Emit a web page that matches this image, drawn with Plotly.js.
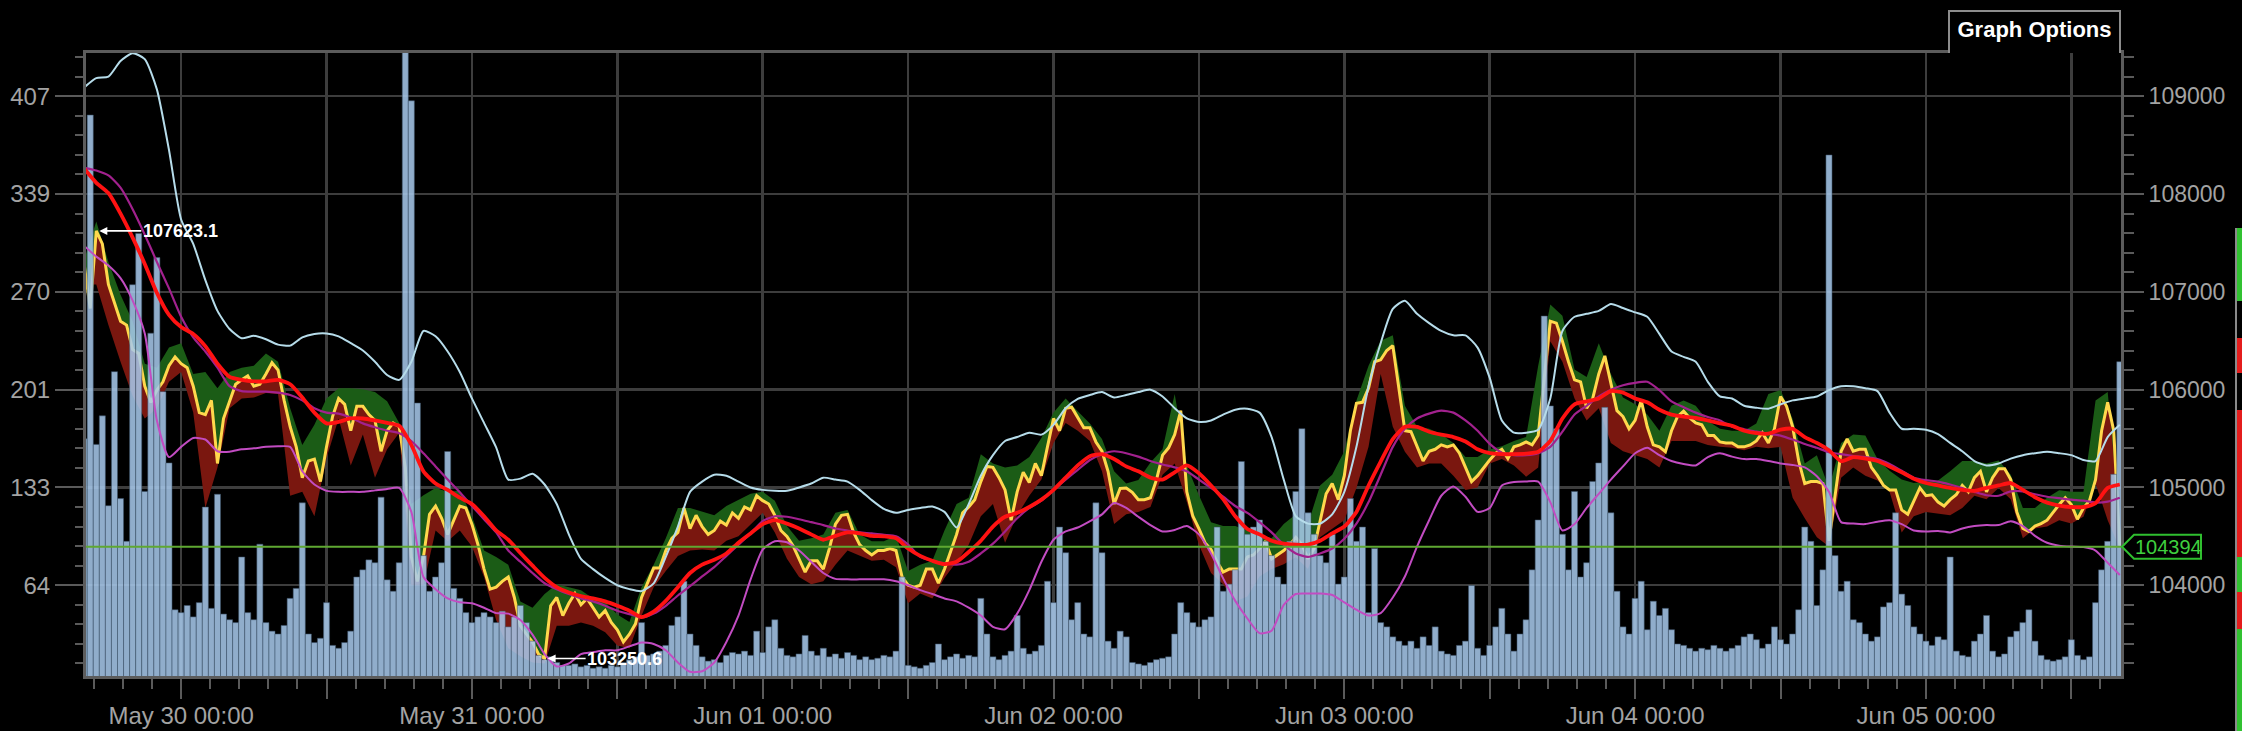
<!DOCTYPE html>
<html><head><meta charset="utf-8">
<script src="https://cdn.plot.ly/plotly-3.0.1.min.js"></script>
<style>
html,body{margin:0;padding:0;background:#000;width:2242px;height:731px;overflow:hidden;}
#chart{position:absolute;left:0;top:0;width:2235px;height:731px;}
#opts{position:absolute;left:1948px;top:10px;width:173px;height:43px;box-sizing:border-box;border:2px solid #8c8c8c;border-bottom:none;color:#fff;font:bold 22px 'Liberation Sans',Arial,sans-serif;text-align:center;line-height:36px;background:#000;}
#stripline{position:absolute;left:2235px;top:228px;width:2px;height:503px;background:#8a8a8a;}
</style></head>
<body>
<div id="chart"></div>
<div id="opts">Graph Options</div>
<div id="stripline"></div>
<script>
// ---- price (yellow), 30-minute steps from May 29 16:00 ----
const yellow = [
107280,106830,107623.1,107490,107075,106890,106700,106660,106410,106370,106035,105870,
105995,106080,106245,106335,106265,106225,106035,105765,105745,105890,105245,105705,
105890,106055,106100,106140,106035,106055,106160,106275,106200,105890,105620,105415,
105100,105270,105290,105060,105415,105725,105910,105850,105580,105830,105830,105745,
105685,105370,105580,105660,105620,105205,104290,104040,104290,104725,104810,104685,
104520,104665,104810,104790,104625,104415,104165,103960,103980,104040,104085,103875,
103585,103500,103420,103295,103250.6,103790,103875,103690,103815,103915,103800,103865,
103770,103675,103740,103620,103545,103420,103500,103605,103875,104020,104175,104175,
104355,104480,104540,104790,104580,104715,104600,104520,104560,104655,104615,104740,
104685,104800,104770,104915,104865,104830,104715,104560,104500,104405,104270,104135,
104250,104250,104165,104375,104625,104715,104725,104540,104415,104355,104310,104355,
104355,104375,104355,104085,104000,103980,104000,104165,104165,104020,104165,104340,
104520,104740,104800,104875,105060,105215,105205,105100,104975,104665,104955,105155,
105050,105245,105120,105415,105705,105580,105810,105820,105715,105610,105610,105465,
105370,105165,104830,104990,104995,104950,104875,104875,104895,105080,105330,105405,
105540,105785,104955,104705,104580,104435,104365,104240,104135,104165,104165,104165,
104290,104310,104375,104450,104270,104310,104355,104415,104490,104415,104270,104375,
104665,104935,105040,104875,105120,105580,105860,105870,106015,106285,106305,106400,
106450,105995,105580,105570,105415,105270,105370,105390,105435,105415,105435,105350,
105205,105060,105120,105205,105280,105350,105390,105295,105415,105435,105465,105435,
105530,106120,106700,106680,106495,106285,106100,106080,105810,105910,106160,106345,
106055,105785,105725,105600,105685,105890,105620,105435,105415,105365,105580,105725,
105780,105710,105660,105640,105530,105530,105465,105455,105455,105415,105415,105435,
105475,105560,105455,105600,105930,105830,105620,105270,105040,105060,105060,105040,
104455,104915,105370,105495,105370,105390,105390,105205,105120,105020,104975,104975,
104770,104725,104865,104995,104915,104925,104850,104810,104875,104925,105020,104955,
105100,105165,104955,105100,105190,105190,105080,104750,104580,104550,104605,104630,
104665,104750,104825,104895,104825,104675,104790,104865,105080,105580,105870,105580,
104394];

// ---- band edges (hourly) ----
const bandUpper = [
107330,107720,107305,106970,106700,106265,106225,106430,106475,106160,106180,106015,
106180,106225,106245,106370,106285,105810,105435,105640,105910,106015,106015,106005,
105975,105880,105660,104830,104920,104995,104955,104965,104705,104355,104290,104210,
103835,103770,103910,104010,103980,103950,103865,103825,103700,103625,103980,104210,
104480,104790,104790,104755,104715,104810,104875,104935,104955,104865,104605,104455,
104480,104520,104740,104770,104520,104450,104450,104505,104145,104210,104250,104560,
104830,104895,105340,105245,105205,105225,105310,105505,105765,105910,105780,105655,
105495,105165,105040,105075,105255,105390,105955,105225,104920,104645,104605,104605,
104560,104520,104480,104625,104725,104625,105020,105130,105370,105890,106245,106500,
106555,105835,105620,105600,105545,105455,105310,105310,105390,105420,105475,105515,
106245,106870,106755,106205,106130,106475,106160,105920,105850,105745,105580,105835,
105890,105835,105680,105600,105580,105580,105655,105955,105995,105700,105245,105330,
104995,105455,105540,105530,105290,105170,105080,105045,105060,105070,105165,105270,
105270,105245,105275,105130,104790,104790,104895,104970,104955,104955,105890,105975,
104665];
const bandLower = [
107075,107075,106660,106285,105935,105705,105810,106080,106180,105765,104790,105205,
105810,105910,105920,105965,105955,104915,104955,104705,105300,105705,105225,105540,
105100,105390,105560,104000,104000,104560,104450,104560,104395,104085,103645,103355,
103275,103210,103200,103585,103585,103620,103585,103520,103385,103355,103690,103980,
104145,104300,104355,104365,104355,104455,104500,104615,104740,104540,104270,104085,
104010,104040,104210,104355,104300,104250,104260,104185,103815,103915,103865,104075,
104240,104415,104705,104830,104435,104715,104915,105080,105455,105660,105580,105475,
105165,104625,104725,104750,104800,105130,105245,104850,104415,104125,104010,103835,
103885,104090,104165,104215,104285,104165,104490,104580,104665,104995,105415,106160,
105620,105365,105205,105245,105245,105120,104975,105000,105245,105290,105225,105110,
105205,106495,106285,105910,105685,105810,105455,105370,105330,105290,105205,105475,
105475,105475,105435,105415,105405,105380,105415,105400,105415,104895,104685,104490,
104395,105100,105205,105120,105070,104955,104540,104705,104750,104730,104715,104790,
104915,104880,104995,104880,104480,104580,104600,104665,104630,104700,105040,104665,
104375];

// ---- moving lines (hourly) ----
const redMA = [
108260,108115,108010,107800,107555,107285,106990,106765,106640,106570,106445,106265,
106130,106100,106085,106085,106100,106055,105920,105765,105655,105670,105705,105705,
105685,105660,105630,105435,105165,105040,104975,104895,104830,104705,104560,104465,
104330,104200,104075,103980,103925,103890,103865,103835,103790,103740,103675,103730,
103840,103980,104125,104210,104260,104325,104435,104530,104625,104665,104630,104580,
104520,104465,104505,104540,104530,104505,104500,104480,104375,104300,104250,104215,
104240,104340,104455,104600,104700,104740,104800,104875,104975,105100,105225,105320,
105340,105290,105215,105165,105100,105080,105155,105225,105145,105020,104880,104705,
104575,104520,104455,104425,104415,104415,104455,104530,104600,104750,105020,105265,
105495,105620,105620,105570,105540,105515,105470,105390,105350,105340,105340,105345,
105365,105475,105705,105850,105880,105910,105985,105970,105910,105870,105795,105745,
105725,105710,105685,105655,105630,105580,105555,105550,105590,105600,105515,105455,
105380,105270,105310,105295,105270,105215,105155,105090,105045,105020,104995,104975,
104965,104995,105020,105045,104975,104900,104845,104815,104800,104800,104840,104995,
105030];
const purpleMA = [
108270,108240,108190,108065,107845,107585,107305,107035,106745,106535,106390,106225,
106035,105985,105980,105980,105970,105945,105890,105810,105765,105755,105715,105655,
105615,105580,105555,105475,105350,105215,105080,104950,104810,104675,104540,104355,
104240,104125,104020,103960,103910,103865,103835,103790,103740,103705,103670,103710,
103790,103895,103990,104090,104185,104300,104415,104530,104655,104705,104700,104675,
104645,104615,104580,104560,104540,104530,104515,104500,104415,104290,104250,104225,
104210,104240,104325,104425,104550,104685,104790,104865,104975,105080,105180,105280,
105340,105370,105350,105315,105270,105235,105205,105165,105080,104995,104905,104810,
104740,104645,104540,104415,104325,104290,104325,104375,104475,104630,104850,105130,
105415,105600,105705,105755,105785,105765,105685,105580,105445,105355,105330,105330,
105350,105415,105570,105745,105835,105930,106000,106045,106070,106080,105995,105880,
105820,105765,105720,105685,105620,105595,105570,105550,105530,105490,105445,105405,
105360,105340,105320,105310,105290,105240,105170,105100,105075,105060,105030,104995,
104955,104920,104915,104960,104960,104930,104905,104890,104875,104865,104845,104855,
104895];
const magentaLine = [
107470,107360,107270,107140,106910,106575,105685,105310,105415,105505,105490,105370,
105365,105390,105400,105415,105420,105415,105165,105030,104965,104955,104955,104955,
104970,104985,104995,104750,104085,103960,103865,103825,103815,103770,103715,103710,
103645,103495,103295,103170,103200,103295,103315,103335,103335,103375,103415,103400,
103335,103210,103115,103120,103210,103420,103690,104060,104365,104450,104440,104355,
104240,104125,104065,104060,104060,104060,104060,104040,104000,103950,103910,103865,
103835,103770,103690,103575,103550,103710,103950,104240,104465,104550,104590,104655,
104725,104840,104790,104700,104615,104550,104565,104605,104520,104325,104070,103840,
103660,103510,103535,103800,103910,103915,103915,103900,103825,103750,103690,103715,
103875,104090,104395,104665,104915,105010,104905,104750,104790,105020,105055,105060,
105060,104850,104560,104625,104790,104935,105080,105215,105350,105405,105330,105270,
105240,105225,105310,105350,105315,105290,105290,105270,105245,105230,105205,105115,
104955,104645,104630,104625,104650,104665,104625,104560,104550,104555,104540,104580,
104605,104615,104615,104655,104605,104505,104435,104405,104395,104390,104355,104230,
104105];
const lightBlueLine = [
109090,109185,109200,109360,109440,109380,109070,108450,107740,107490,107120,106805,
106620,106525,106550,106515,106460,106450,106535,106570,106575,106545,106475,106400,
106285,106150,106100,106285,106600,106545,106390,106180,105910,105660,105410,105080,
105090,105140,105030,104830,104520,104270,104165,104075,104000,103960,103940,104020,
104290,104600,104955,105060,105130,105120,105060,105000,104975,104965,104965,105000,
105040,105100,105080,105060,104975,104870,104780,104740,104770,104790,104805,104750,
104590,104830,105120,105330,105475,105515,105560,105540,105640,105810,105905,105945,
105975,105920,105945,105975,106000,105930,105810,105705,105670,105685,105745,105795,
105805,105765,105515,105080,104705,104630,104630,104725,104955,105415,106035,106475,
106825,106910,106775,106680,106600,106555,106555,106430,106120,105685,105560,105560,
105590,105910,106600,106745,106775,106805,106875,106835,106790,106745,106570,106390,
106335,106285,106080,105930,105910,105835,105815,105805,105850,105890,105910,105930,
105995,106035,106035,106015,105985,105765,105600,105600,105590,105545,105455,105370,
105270,105225,105245,105295,105330,105350,105365,105350,105330,105280,105270,105515,
105640];

// ---- volume, 30-minute steps ----
const volume = [
167,394,163,183,120,214,125,95,275,311,130,241,
294,200,150,47,45,50,42,52,119,48,128,44,
40,38,84,45,40,93,38,32,30,36,55,62,
122,30,24,27,52,22,20,24,32,70,75,82,
80,126,68,60,80,439,404,192,85,60,70,80,
158,62,55,45,38,42,45,42,38,46,35,42,
50,38,25,15,12,14,10,8,8,9,7,8,
6,7,6,8,7,10,12,14,38,15,16,18,
22,36,42,67,30,22,14,11,12,10,15,17,
16,18,15,32,17,35,40,20,15,14,16,29,
18,15,20,14,16,13,17,15,12,14,12,13,
15,14,18,70,8,7,6,8,10,23,12,14,
16,13,15,14,55,30,14,12,15,18,43,20,
16,18,22,67,52,105,87,40,52,30,28,122,
87,25,20,32,28,10,9,8,10,12,13,14,
30,52,45,38,35,40,42,105,60,65,75,151,
100,105,110,95,85,70,65,95,130,174,115,100,
85,80,100,65,70,125,95,105,45,90,38,35,
28,25,22,25,20,28,22,35,18,16,15,22,
25,64,20,15,22,35,48,30,18,30,40,75,
110,253,190,174,100,75,130,70,80,137,150,189,
115,60,35,30,55,67,33,53,43,48,33,23,
22,20,18,20,19,22,20,18,20,22,28,30,
26,20,23,35,26,23,30,47,105,95,50,75,
366,85,60,67,40,38,30,25,28,49,52,115,
58,50,35,30,25,22,28,26,84,18,15,14,
25,30,43,18,14,16,28,32,38,47,25,15,
12,11,12,14,26,15,12,14,52,75,95,142,
221];

// ---- axes / labels ----
const priceTicks = [104000,105000,106000,107000,108000,109000];
const xTickVals = ['2025-05-30 00:00','2025-05-30 12:00','2025-05-31 00:00','2025-05-31 12:00',
  '2025-06-01 00:00','2025-06-01 12:00','2025-06-02 00:00','2025-06-02 12:00',
  '2025-06-03 00:00','2025-06-03 12:00','2025-06-04 00:00','2025-06-04 12:00',
  '2025-06-05 00:00','2025-06-05 12:00'];
const xTickText = ['May 30 00:00','','May 31 00:00','','Jun 01 00:00','','Jun 02 00:00','',
  'Jun 03 00:00','','Jun 04 00:00','','Jun 05 00:00',''];
const lastPrice = 104394;
const stripSegments = [[228,301,'#31c131'],[301,338,'#000'],[338,373,'#e41c1c'],[373,410,'#000'],
  [410,557,'#e41c1c'],[557,592,'#31c131'],[592,629,'#e41c1c'],[629,731,'#31c131']];

stripSegments.forEach(s=>{
  const d=document.createElement('div');
  d.style.cssText='position:absolute;left:2237px;width:5px;top:'+s[0]+'px;height:'+(s[1]-s[0])+'px;background:'+s[2];
  document.body.appendChild(d);
});

const T0 = Date.UTC(2025,4,29,16,0,0);
const HOUR = 3600e3;
function ts(h){ return new Date(T0 + h*HOUR).toISOString().slice(0,16).replace('T',' '); }
const hourTimes = bandUpper.map((_,i)=>ts(i));
const halfTimes = yellow.map((_,i)=>ts(i*0.5));
const volTimes = volume.map((_,i)=>ts(i*0.5));

const PMIN = 103072, PMAX = 109442;
const VOL_AT_104K = 64.2, VOL_PER_USD = 0.0686;
const toVol = p => (p-104000)*VOL_PER_USD + VOL_AT_104K;
const volTickVals = priceTicks.map(toVol);
const volTickText = volTickVals.map(v=>String(Math.round(v)));

let iMax=0,iMin=0;
yellow.forEach((v,i)=>{ if(v>yellow[iMax]) iMax=i; if(v<yellow[iMin]) iMin=i; });

const GRID='#3d3d3d', TICK='#5a5a5a', LBL='#a3a3a3';
const FONT="'Liberation Sans', Arial, sans-serif";

const traces = [
  {x:hourTimes, y:bandLower, type:'scatter', mode:'lines', line:{width:0}, yaxis:'y', hoverinfo:'skip'},
  {x:halfTimes, y:yellow, type:'scatter', mode:'lines', line:{width:0}, fill:'tonexty', fillcolor:'#7a170f', yaxis:'y', hoverinfo:'skip'},
  {x:hourTimes, y:bandUpper, type:'scatter', mode:'lines', line:{width:0}, fill:'tonexty', fillcolor:'#1b5c16', yaxis:'y', hoverinfo:'skip'},
  {x:halfTimes, y:yellow, type:'scatter', mode:'lines', line:{color:'#ffd84d', width:3}, yaxis:'y'},
  {x:volTimes, y:volume, type:'bar', yaxis:'y2', marker:{color:'rgba(168,202,236,0.86)', line:{color:'rgba(60,82,104,0.9)', width:0.6}}},
  {x:hourTimes, y:lightBlueLine, type:'scatter', mode:'lines', line:{color:'#b6dcea', width:2, shape:'spline', smoothing:0.6}, yaxis:'y3'},
  {x:hourTimes, y:magentaLine, type:'scatter', mode:'lines', line:{color:'#c24cc2', width:2, shape:'spline', smoothing:0.6}, yaxis:'y3'},
  {x:hourTimes, y:purpleMA, type:'scatter', mode:'lines', line:{color:'#a2218e', width:2.2, shape:'spline', smoothing:0.6}, yaxis:'y3'},
  {x:hourTimes, y:redMA, type:'scatter', mode:'lines', line:{color:'#ff1212', width:3.8, shape:'spline', smoothing:0.6}, yaxis:'y3'}
];

const layout = {
  width:2235, height:731,
  paper_bgcolor:'#000', plot_bgcolor:'#000',
  margin:{l:86, r:114, t:53, b:55, pad:0},
  showlegend:false, hovermode:false, bargap:0,
  font:{family:FONT, color:LBL, size:24},
  xaxis:{type:'date', range:[ts(0.16), ts(168.1)], tickmode:'array', tickvals:xTickVals, ticktext:xTickText,
    ticks:'outside', ticklen:20, tickwidth:2, tickcolor:TICK, showgrid:true, gridcolor:GRID, gridwidth:2.5,
    showline:true, linecolor:'#5c5c5c', linewidth:3, mirror:true, zeroline:false, ticklabelstandoff:-4,
    tickfont:{family:FONT, size:24, color:LBL},
    minor:{dtick:2.4*HOUR, tick0:'2025-05-30 00:00', ticks:'outside', ticklen:10, tickwidth:2, tickcolor:TICK, showgrid:false}},
  yaxis:{side:'right', range:[PMIN,PMAX], tickmode:'linear', tick0:0, dtick:1000, tickformat:'d',
    ticks:'outside', ticklen:20, tickwidth:2, tickcolor:TICK, showgrid:true, gridcolor:GRID, gridwidth:2.5,
    showline:true, linecolor:'#5c5c5c', linewidth:3, mirror:true, zeroline:false,
    tickfont:{family:FONT, size:23, color:LBL},
    minor:{tickmode:'linear', tick0:0, dtick:200, ticks:'outside', ticklen:10, tickwidth:2, tickcolor:TICK, showgrid:false}},
  yaxis2:{overlaying:'y', side:'left', range:[toVol(PMIN), toVol(PMAX)], tickmode:'array', tickvals:volTickVals, ticktext:volTickText,
    ticks:'outside', ticklen:30, tickwidth:2, tickcolor:TICK, showgrid:false, zeroline:false, showline:false,
    tickfont:{family:FONT, size:24, color:LBL},
    minor:{tickmode:'linear', tick0:VOL_AT_104K, dtick:200*VOL_PER_USD, ticks:'outside', ticklen:10, tickwidth:2, tickcolor:TICK, showgrid:false}},
  yaxis3:{overlaying:'y', range:[PMIN,PMAX], visible:false},
  shapes:[
    {type:'line', xref:'paper', x0:0, x1:1, yref:'y', y0:lastPrice, y1:lastPrice, line:{color:'#5fa832', width:2}, layer:'above'},
    {type:'path', xref:'paper', xsizemode:'pixel', xanchor:1, yref:'y', ysizemode:'pixel', yanchor:lastPrice,
     path:'M1,0 L13,12 L80,12 L80,-12 L13,-12 Z', line:{color:'#2fbf2f', width:2}, fillcolor:'#000', layer:'above'}
  ],
  annotations:[
    {xref:'x', yref:'y', x:halfTimes[iMax], y:yellow[iMax], text:'<b>'+yellow[iMax].toFixed(1)+'</b>',
     showarrow:true, ax:84, ay:0, arrowhead:2, arrowsize:1, arrowwidth:1.6, arrowcolor:'#ffffff', standoff:3,
     font:{family:FONT, size:18, color:'#ffffff'}},
    {xref:'x', yref:'y', x:halfTimes[iMin], y:yellow[iMin], text:'<b>'+yellow[iMin].toFixed(1)+'</b>',
     showarrow:true, ax:80, ay:0, arrowhead:2, arrowsize:1, arrowwidth:1.6, arrowcolor:'#ffffff', standoff:3,
     font:{family:FONT, size:18, color:'#ffffff'}},
    {xref:'paper', yref:'y', x:1, y:lastPrice, xanchor:'left', xshift:12, yanchor:'middle', showarrow:false,
     text:String(lastPrice), font:{family:FONT, size:20, color:'#3fd03f'}}
  ]
};

Plotly.newPlot('chart', traces, layout, {displayModeBar:false, staticPlot:true});
</script>
</body></html>
